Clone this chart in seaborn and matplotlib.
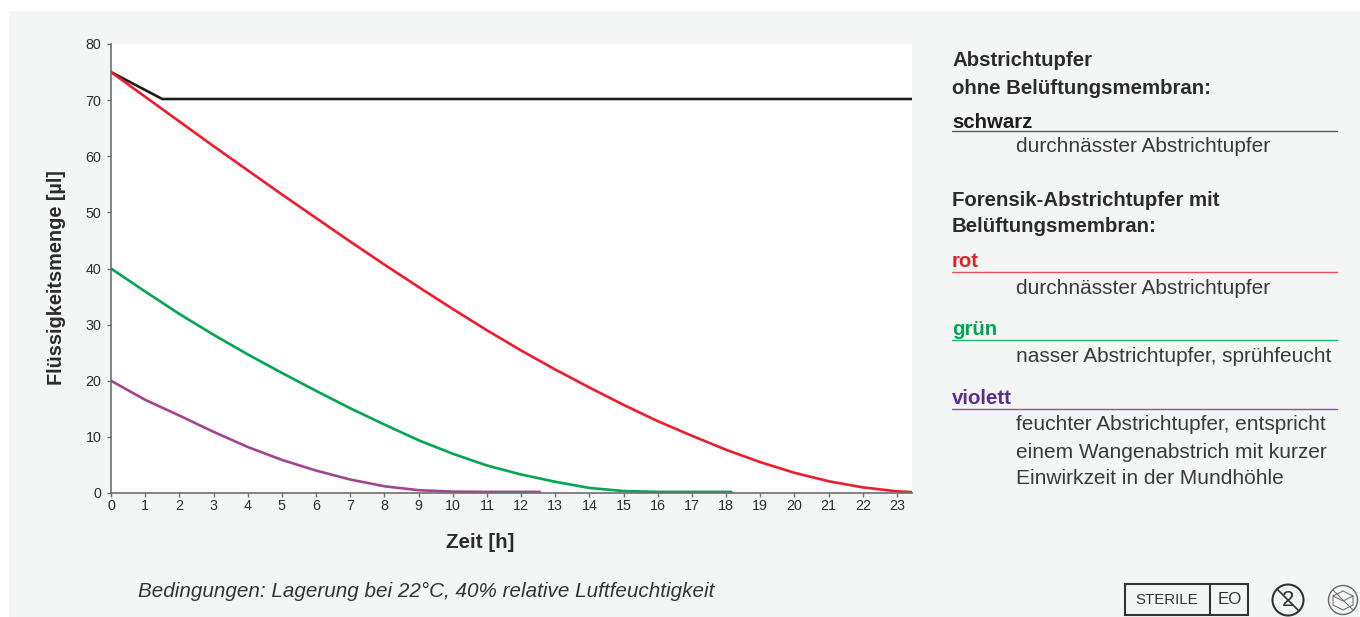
import pandas as pd
import matplotlib
matplotlib.use("Agg")
import matplotlib.pyplot as plt
from matplotlib.patches import Rectangle, Circle
import seaborn as sns

# values
black_h = [0, 1.5, 23.45]
black_ul = [75, 70.2, 70.2]

red_h = [0, 1, 2, 3, 4, 5, 6, 7, 8, 9, 10, 11, 12, 13, 14, 15, 16, 17, 18, 19, 20, 21, 22, 23, 23.45]
red_ul = [75, 70.6, 66.2, 61.8, 57.5, 53.2, 49, 44.8, 40.7, 36.7, 32.8, 29, 25.4, 22, 18.8, 15.7, 12.8, 10.2, 7.7, 5.5, 3.6, 2.1, 1, 0.3, 0.15]

green_h = [0, 1, 2, 3, 4, 5, 6, 7, 8, 9, 10, 11, 12, 13, 14, 15, 16, 17, 18, 18.15]
green_ul = [40, 35.9, 31.9, 28.2, 24.7, 21.4, 18.2, 15.1, 12.2, 9.4, 7, 4.9, 3.3, 2, 0.9, 0.35, 0.2, 0.2, 0.2, 0.2]

violet_h = [0, 1, 2, 3, 4, 5, 6, 7, 8, 9, 10, 11, 12, 12.55]
violet_ul = [20, 16.6, 13.8, 10.9, 8.2, 5.9, 4, 2.4, 1.2, 0.5, 0.25, 0.2, 0.2, 0.2]

hour_ticks = list(range(0, 24))
ul_ticks = [0, 10, 20, 30, 40, 50, 60, 70, 80]

df = pd.concat([
    pd.DataFrame({"h": black_h, "ul": black_ul, "swab": "schwarz"}),
    pd.DataFrame({"h": red_h, "ul": red_ul, "swab": "rot"}),
    pd.DataFrame({"h": green_h, "ul": green_ul, "swab": "gruen"}),
    pd.DataFrame({"h": violet_h, "ul": violet_ul, "swab": "violett"}),
])
colors = {"schwarz": "#1d1d1b", "rot": "#ed1c2e", "gruen": "#00a651", "violett": "#a3448f"}

sns.set_theme(style="white")
plt.rcParams["font.family"] = ["Liberation Sans", "DejaVu Sans"]

W, H = 1360, 617
fig = plt.figure(figsize=(W / 100, H / 100), dpi=100, facecolor="white")
bg = "#f4f6f5"
txt = "#2b2b2b"
fig.patches.append(Rectangle((9 / W, 0), (W - 9) / W, (H - 11) / H, transform=fig.transFigure,
                             facecolor=bg, edgecolor="none", zorder=-5))

ax = fig.add_axes([111 / W, 1 - 493 / H, (912 - 111) / W, (493 - 44) / H], facecolor="white")
sns.lineplot(data=df, x="h", y="ul", hue="swab", palette=colors, estimator=None, sort=False,
             linewidth=1.9, legend=False, ax=ax)
ax.set_xlim(0, 23.44)
ax.set_ylim(0, 80)
ax.set_xticks(hour_ticks)
ax.set_yticks(ul_ticks)
ax.tick_params(axis="both", length=3, width=1, color="#6d6e70", labelsize=10.3, labelcolor=txt, pad=1,
               bottom=True, left=True)
ax.tick_params(axis="y", pad=4)
sns.despine(ax=ax)
for s in ["left", "bottom"]:
    ax.spines[s].set_color("#6d6e70")
    ax.spines[s].set_linewidth(1.2)
ax.set_xlabel("")
ax.set_ylabel("")


def px(x, y, s, **kw):
    kw.setdefault("color", txt)
    kw.setdefault("va", "center")
    fig.text(x / W, 1 - y / H, s, **kw)


def rule(x0, x1, y, color, lw=1):
    fig.add_artist(plt.Line2D([x0 / W, x1 / W], [1 - y / H, 1 - y / H], color=color, lw=lw))


px(480, 542, "Zeit [h]", fontsize=14.8, fontweight="bold", ha="center")
px(57, 278, "Flüssigkeitsmenge [µl]", fontsize=14.3, fontweight="bold", ha="center", rotation=90)
px(138, 591, "Bedingungen: Lagerung bei 22°C, 40% relative Luftfeuchtigkeit", fontsize=14.9, style="italic", color="#333333")

# legend column on the right
fs = 15
fb = 14.7
px(952, 60, "Abstrichtupfer", fontsize=fb, fontweight="bold")
px(952, 88, "ohne Belüftungsmembran:", fontsize=fb, fontweight="bold")
px(952, 122, "schwarz", fontsize=fb, fontweight="bold", color="#1d1d1b")
rule(952, 1337, 131, "#555555")
px(1016, 147, "durchnässter Abstrichtupfer", fontsize=fs, color="#3a3a3a")
px(952, 200, "Forensik-Abstrichtupfer mit", fontsize=fb, fontweight="bold")
px(952, 227, "Belüftungsmembran:", fontsize=fb, fontweight="bold")
px(952, 262, "rot", fontsize=fb, fontweight="bold", color="#e2202c")
rule(952, 1337, 272, "#e9505a")
px(1016, 288, "durchnässter Abstrichtupfer", fontsize=fs, color="#3a3a3a")
px(952, 330, "grün", fontsize=fb, fontweight="bold", color="#00a651")
rule(952, 1337, 340, "#1fb565")
px(1016, 356, "nasser Abstrichtupfer, sprühfeucht", fontsize=fs, color="#3a3a3a")
px(952, 399, "violett", fontsize=fb, fontweight="bold", color="#5b2d8e")
rule(952, 1337, 409, "#7e57a6")
px(1016, 425, "feuchter Abstrichtupfer, entspricht", fontsize=fs, color="#3a3a3a")
px(1016, 452, "einem Wangenabstrich mit kurzer", fontsize=fs, color="#3a3a3a")
px(1016, 479, "Einwirkzeit in der Mundhöhle", fontsize=fs, color="#3a3a3a")

# symbols bottom right
fig.add_artist(Rectangle((1125 / W, 1 - 615 / H), (1248 - 1125) / W, 31 / H, transform=fig.transFigure,
                         facecolor="none", edgecolor="#333333", lw=1.5))
fig.add_artist(plt.Line2D([1210 / W, 1210 / W], [1 - 584 / H, 1 - 615 / H], color="#333333", lw=1.5))
px(1167, 600, "STERILE", fontsize=10.8, ha="center", color="#333333")
px(1230, 600, "EO", fontsize=12.2, ha="center", color="#333333")
px(1288, 600, "2", fontsize=16, ha="center", color="#333333")
circ_ax = fig.add_axes([0, 0, 1, 1], facecolor="none")
circ_ax.set_axis_off()
circ_ax.set_xlim(0, W)
circ_ax.set_ylim(H, 0)
circ_ax.plot([1277, 1299], [589, 611], color="#333333", lw=1.2)
circ_ax.add_patch(Circle((1288, 600), 15.5, fill=False, ec="#333333", lw=1.5))
circ_ax.add_patch(Circle((1343, 600), 14.5, fill=False, ec="#666666", lw=1))
circ_ax.plot([1333, 1343, 1353, 1343, 1333, 1333, 1343, 1353, 1353], [596, 591, 596, 601, 596, 605, 610, 605, 596], color="#666666", lw=0.7)
circ_ax.plot([1333, 1353], [590, 610], color="#666666", lw=0.7)

fig.savefig("out.png", dpi=100, facecolor="white")
